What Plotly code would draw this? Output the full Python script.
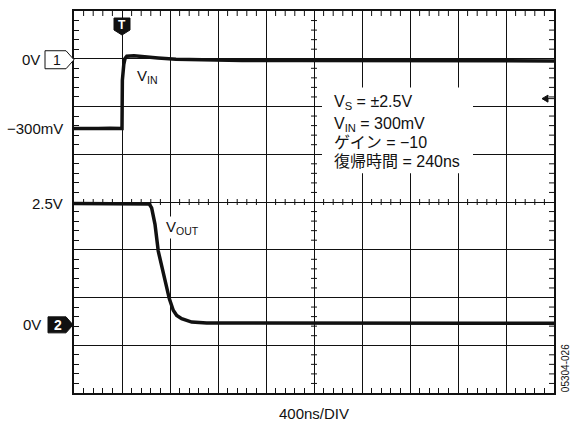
import plotly.graph_objects as go

# ---------------- data ----------------
# time axis: 400 ns/div, 10 divisions, trigger at t=0
vin_t = [-400, -300, -200, -100, -20, 0, 3, 8, 15, 25, 40, 100, 200, 300, 450, 650, 1000, 1500, 2000, 2500, 3000, 3600]
vin_v = [-0.300, -0.301, -0.300, -0.299, -0.300, -0.300, -0.09, -0.05, -0.02, 0.005, 0.015, 0.017, 0.014, 0.008, 0.002, -0.001, -0.003, -0.003, -0.004, -0.004, -0.005, -0.005]

vout_t = [-400, -200, 0, 200, 227, 247, 275, 302, 344, 394, 427, 456, 497, 581, 706, 1000, 1500, 2000, 2500, 3000, 3600]
vout_v = [2.50, 2.50, 2.50, 2.50, 2.49, 2.41, 2.07, 1.52, 1.05, 0.54, 0.30, 0.195, 0.127, 0.057, 0.037, 0.035, 0.035, 0.035, 0.035, 0.035, 0.035]

ch1_labels = [(0.0, "0V"), (-0.3, "\u2212300mV")]
ch2_labels = [(2.5, "2.5V"), (0.0, "0V")]
info_lines = ["V<sub>S</sub> = \u00b12.5V", "V<sub>IN</sub> = 300mV", "ゲイン = \u221210", "復帰時間 = 240ns"]

T0, DT, NDIV = -400, 400, 10
CH1_RANGE = [-1.4565, 0.2130]
CH2_RANGE = [-1.4037, 6.465]
CH1_TRIG = -0.17

FONT = "Liberation Sans, Arial, Helvetica, Noto Sans CJK JP, sans-serif"
INK = "#111111"

fig = go.Figure()
fig.add_trace(go.Scatter(x=[], y=[], xaxis="x", yaxis="y", showlegend=False, hoverinfo="skip"))
fig.add_trace(go.Scatter(x=vin_t, y=vin_v, xaxis="x", yaxis="y2", mode="lines",
                         line=dict(color=INK, width=3.5), showlegend=False))
fig.add_trace(go.Scatter(x=vout_t, y=vout_v, xaxis="x", yaxis="y3", mode="lines",
                         line=dict(color=INK, width=3.5), showlegend=False))

xmax = T0 + DT * NDIV
fig.update_layout(
    width=572, height=423,
    margin=dict(l=74, r=18, t=9, b=30),
    paper_bgcolor="white", plot_bgcolor="white",
    font=dict(family=FONT, color=INK, size=15),
    xaxis=dict(range=[T0, xmax], tick0=T0, dtick=DT, showgrid=True, gridcolor=INK, gridwidth=1,
               zeroline=False, showticklabels=False, ticks="", showline=True, linecolor=INK,
               linewidth=2, mirror=True,
               minor=dict(dtick=DT / 5, tick0=T0, ticks="inside", ticklen=5, tickcolor=INK, tickwidth=1, showgrid=False)),
    yaxis=dict(range=[0, 8], tick0=0, dtick=1, showgrid=True, gridcolor=INK, gridwidth=1,
               zeroline=False, showticklabels=False, ticks="", showline=True, linecolor=INK,
               linewidth=2, mirror=True,
               minor=dict(dtick=0.2, tick0=0, ticks="inside", ticklen=5, tickcolor=INK, tickwidth=1, showgrid=False)),
    yaxis2=dict(range=CH1_RANGE, overlaying="y", visible=False),
    yaxis3=dict(range=CH2_RANGE, overlaying="y", visible=False),
)

shapes = []
tick = dict(color=INK, width=1)
# center crosshair ticks + top/right edge ticks
xc = T0 + DT * NDIV / 2
for i in range(NDIV * 5 + 1):
    if i % 5 == 0:
        continue
    t = T0 + i * DT / 5
    shapes.append(dict(type="line", xref="x", yref="y", ysizemode="pixel", yanchor=4,
                       x0=t, x1=t, y0=-3, y1=3, line=tick))
    shapes.append(dict(type="line", xref="x", yref="paper", ysizemode="pixel", yanchor=1,
                       x0=t, x1=t, y0=0, y1=-5, line=tick))
for i in range(8 * 5 + 1):
    if i % 5 == 0:
        continue
    d = i * 0.2
    shapes.append(dict(type="line", xref="x", yref="y", xsizemode="pixel", xanchor=xc,
                       x0=-3, x1=3, y0=d, y1=d, line=tick))
    shapes.append(dict(type="line", xref="paper", yref="y", xsizemode="pixel", xanchor=1,
                       x0=0, x1=-5, y0=d, y1=d, line=tick))

# white box behind info text
shapes.append(dict(type="rect", xref="paper", yref="paper",
                   x0=(322 - 74) / 480, x1=(473 - 74) / 480,
                   y0=(393 - 172) / 384, y1=(393 - 86) / 384,
                   fillcolor="white", line=dict(width=0), layer="above"))

# channel markers
shapes.append(dict(type="path", xref="paper", yref="y2", xsizemode="pixel", ysizemode="pixel",
                   xanchor=0, yanchor=0, path="M -29 -9 L -8 -9 L 0 0 L -8 9 L -29 9 Z",
                   fillcolor="white", line=dict(color=INK, width=1), layer="above"))
shapes.append(dict(type="path", xref="paper", yref="y3", xsizemode="pixel", ysizemode="pixel",
                   xanchor=0, yanchor=0, path="M -26 -8 L -8 -8 L -1 0 L -8 8 L -26 8 Z",
                   fillcolor=INK, line=dict(color=INK, width=1), layer="above"))
# trigger marker
shapes.append(dict(type="path", xref="x", yref="paper", xsizemode="pixel", ysizemode="pixel",
                   xanchor=0, yanchor=1, path="M -8 -7 L 8 -7 L 8 -19 L 0 -24 L -8 -19 Z",
                   fillcolor=INK, line=dict(color=INK, width=1), layer="above"))
# ch1 trigger-level arrow at right edge
shapes.append(dict(type="path", xref="paper", yref="y2", xsizemode="pixel", ysizemode="pixel",
                   xanchor=1, yanchor=CH1_TRIG, path="M -12 0 L -6 -3.5 L -6 3.5 Z",
                   fillcolor=INK, line=dict(color=INK, width=1), layer="above"))
shapes.append(dict(type="line", xref="paper", yref="y2", xsizemode="pixel", ysizemode="pixel",
                   xanchor=1, yanchor=CH1_TRIG, x0=-7, x1=0, y0=0, y1=0,
                   line=dict(color=INK, width=1), layer="above"))
fig.update_layout(shapes=shapes)

ann = []
for v, txt in ch1_labels:
    shift = -32 if txt == "0V" else -9
    ann.append(dict(x=0, y=v, xref="paper", yref="y2", text=txt, showarrow=False,
                    xanchor="right", yanchor="middle", xshift=shift))
for v, txt in ch2_labels:
    shift = -31 if txt == "0V" else -9
    ann.append(dict(x=0, y=v, xref="paper", yref="y3", text=txt, showarrow=False,
                    xanchor="right", yanchor="middle", xshift=shift))
ann.append(dict(x=0, y=0, xref="paper", yref="y2", text="1", showarrow=False,
                xanchor="center", yanchor="middle", xshift=-17, font=dict(size=14)))
ann.append(dict(x=0, y=0, xref="paper", yref="y3", text="<b>2</b>", showarrow=False,
                xanchor="center", yanchor="middle", xshift=-16, font=dict(size=14, color="white")))
ann.append(dict(x=0, y=1, xref="x", yref="paper", text="<b>T</b>", showarrow=False,
                xanchor="center", yanchor="middle", yshift=-14, font=dict(size=12, color="white")))
ann.append(dict(x=215, y=-0.075, xref="x", yref="y2", text="V<sub>IN</sub>", showarrow=False,
                xanchor="center", yanchor="middle"))
ann.append(dict(x=508, y=2.0, xref="x", yref="y3", text="V<sub>OUT</sub>", showarrow=False,
                xanchor="center", yanchor="middle", bgcolor="white"))
ys = [101, 123, 141.5, 160]
for txt, py in zip(info_lines, ys):
    ann.append(dict(x=(332 - 74) / 480, y=(393 - py) / 384, xref="paper", yref="paper", text=txt,
                    showarrow=False, xanchor="left", yanchor="middle", font=dict(size=16)))
ann.append(dict(x=0.5, y=0, xref="paper", yref="paper", text="400ns/DIV", showarrow=False,
                xanchor="center", yanchor="middle", yshift=-20, font=dict(size=15)))
ann.append(dict(x=(565 - 74) / 480, y=(393 - 368) / 384, xref="paper", yref="paper", text="05304-026",
                showarrow=False, textangle=-90, xanchor="center", yanchor="middle", font=dict(size=10)))
fig.update_layout(annotations=ann)

fig.write_html("out.html", config={"displayModeBar": False},
               post_script="document.body.style.margin='0px';")
